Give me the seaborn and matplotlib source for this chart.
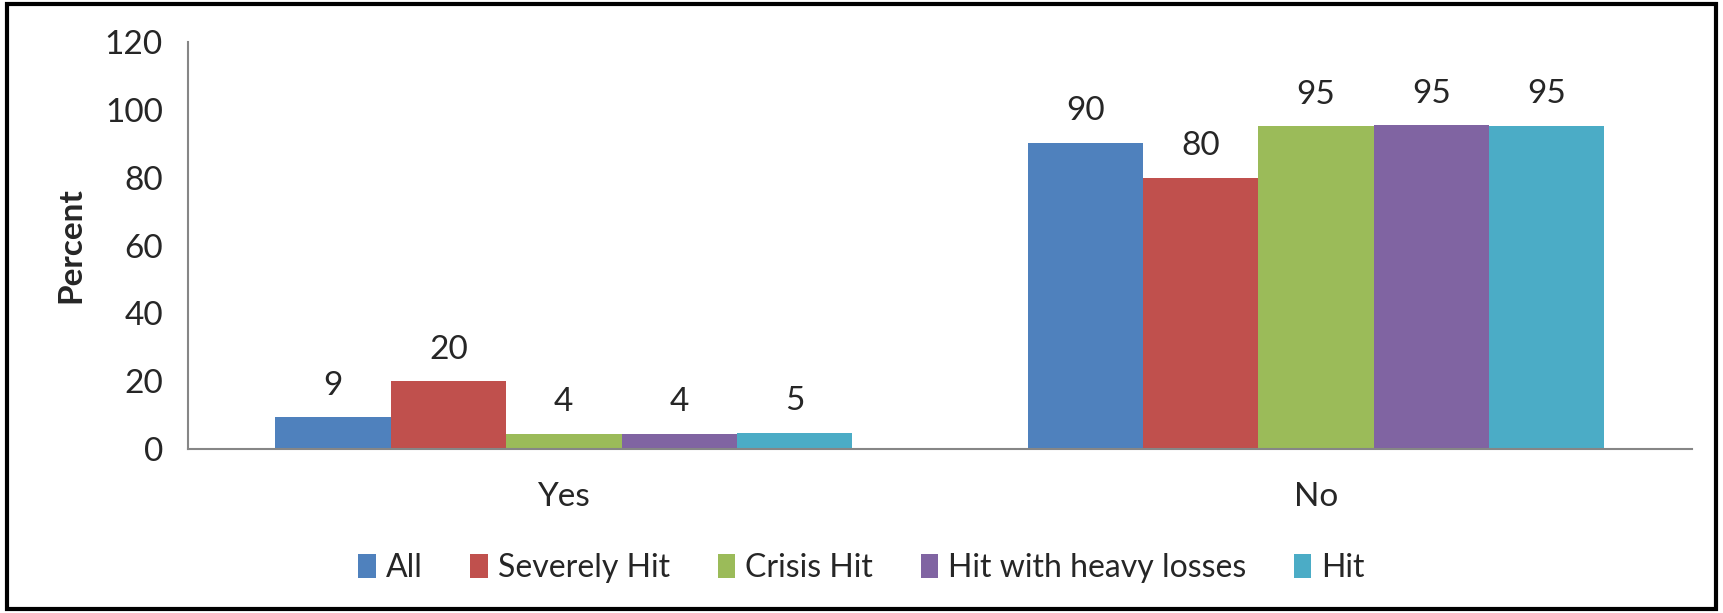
import pandas as pd
import matplotlib.pyplot as plt
import seaborn as sns
from matplotlib.patches import Rectangle

responses = ['Yes', 'No']
groups = ['All', 'Severely Hit', 'Crisis Hit', 'Hit with heavy losses', 'Hit']
yes_values = [9.3, 20.0, 4.4, 4.4, 4.7]
no_values = [90.3, 79.9, 95.1, 95.4, 95.2]
colors = ['#4F81BD', '#C0504D', '#9BBB59', '#8064A2', '#4BACC6']
yticks = [0, 20, 40, 60, 80, 100, 120]

data = pd.DataFrame({
    'response': ['Yes'] * len(groups) + ['No'] * len(groups),
    'group': groups + groups,
    'value': yes_values + no_values,
})

sns.set_style('white')
plt.rcParams['font.family'] = ['Lato', 'DejaVu Sans']

fig = plt.figure(figsize=(17.23, 6.13), dpi=100)
ax = fig.add_axes([0.109, 0.2675, 0.873, 0.664])

sns.barplot(data=data, x='response', y='value', hue='group', order=responses,
            hue_order=groups, palette=colors, saturation=1, width=0.767,
            gap=0, linewidth=0, ax=ax)

for c in ax.containers:
    ax.bar_label(c, fmt='%.0f', padding=12, fontsize=24)

ax.set_ylim(0, 120)
ax.set_yticks(yticks)
ax.set_yticklabels([str(t) for t in yticks], fontsize=24)
ax.set_xlim(-0.5, 1.5)
ax.set_xticks(range(len(responses)))
ax.set_xticklabels(responses, fontsize=24)
ax.set_xticks([-0.5, 0.5, 1.5], minor=True)
ax.tick_params(axis='x', which='major', length=0, pad=24)
ax.tick_params(axis='x', which='minor', length=10, width=1.2, color='#868686', direction='out')
ax.tick_params(axis='y', length=10, width=1.2, color='#868686', direction='out', pad=8)
ax.set_xlabel('')
ax.set_ylabel('Percent', fontsize=24, fontweight='bold', labelpad=14)

for side in ['top', 'right']:
    ax.spines[side].set_visible(False)
for side in ['left', 'bottom']:
    ax.spines[side].set_color('#868686')
    ax.spines[side].set_linewidth(1.5)

ax.legend(loc='center', bbox_to_anchor=(0.5, 0.073), bbox_transform=fig.transFigure,
          ncol=5, frameon=False, fontsize=23, handlelength=0.55, handleheight=0.8,
          handletextpad=0.3, columnspacing=1.5)

fig.patches.append(Rectangle((0.004, 0.006), 0.992, 0.988, transform=fig.transFigure,
                             fill=False, edgecolor='black', linewidth=3))

fig.savefig('out.png', dpi=100)
